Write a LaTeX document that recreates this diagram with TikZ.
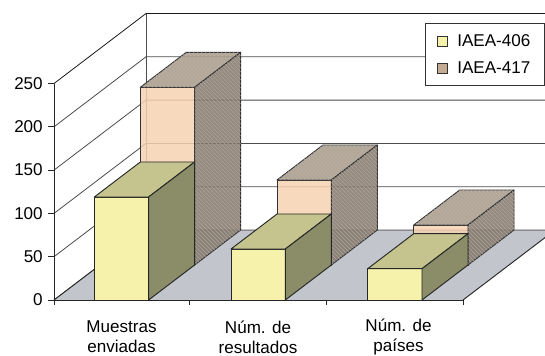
\documentclass[tikz,border=0pt]{standalone}
\usepackage{fontspec}
\setmainfont{Liberation Sans}
\usepackage{tikz}
\usetikzlibrary{patterns}

\definecolor{yfront}{HTML}{F6F1AB}
\definecolor{ytop}{HTML}{C5C48F}
\definecolor{yside}{HTML}{8B8D68}
\definecolor{pfront}{HTML}{F6D2B2}
\definecolor{ptop}{HTML}{AE9B86}
\definecolor{pside}{HTML}{867665}
\definecolor{floorgray}{HTML}{C2C5CC}

\begin{document}
\begin{tikzpicture}[x=0.75pt,y=-0.75pt]
        \tikzset{
          lbl/.style={font=\fontsize{12.8}{15}\selectfont, inner sep=0pt},
          gridline/.style={draw=black!70, line width=0.6pt},
          axisline/.style={draw=black!85, line width=0.7pt},
          yface/.style={draw=black!85, line width=0.7pt, line join=round},
          pface/.style={draw=black!80, line width=0.7pt, line join=round, fill opacity=0.85},
          hatch/.style={pattern=north west lines, pattern color=black!35},
        }
        \useasboundingbox (0,0) rectangle (545,355);
        \clip (0,0) rectangle (545,355);
        % walls
        \draw[gridline] (54,300) -- (146,230) -- (555,230);
        \draw[gridline] (54,256.7) -- (146,186.7) -- (555,186.7);
        \draw[gridline] (54,213.4) -- (146,143.4) -- (555,143.4);
        \draw[gridline] (54,170.1) -- (146,100.1) -- (555,100.1);
        \draw[gridline] (54,126.8) -- (146,56.8) -- (555,56.8);
        \draw[gridline, draw=black!90] (54,83.5) -- (146,13.5) -- (555,13.5);
        \draw[gridline] (146,13.5) -- (146,230);
        % floor
        \fill[floorgray] (54,300) -- (463,300) -- (555,230) -- (146,230) -- cycle;
        \draw[gridline, draw=black!45] (146,230) -- (555,230);
        \draw[axisline] (54,300) -- (146,230);
        \draw[axisline] (463,300) -- (555,230);
        % IAEA-417
        \filldraw[pface, fill=pfront] (140.3,265) rectangle (194.6,87.3);
        \filldraw[pface, fill=ptop] (140.3,87.3) -- (194.6,87.3) -- (240.6,52.3) -- (186.3,52.3) -- cycle;
        \fill[hatch] (140.3,87.3) -- (194.6,87.3) -- (240.6,52.3) -- (186.3,52.3) -- cycle;
        \filldraw[pface, fill=pside] (194.6,265) -- (240.6,230) -- (240.6,52.3) -- (194.6,87.3) -- cycle;
        \fill[hatch] (194.6,265) -- (240.6,230) -- (240.6,52.3) -- (194.6,87.3) -- cycle;
        %
        \filldraw[pface, fill=pfront] (277,265) rectangle (331.3,180);
        \filldraw[pface, fill=ptop] (277,180) -- (331.3,180) -- (377.3,145) -- (323,145) -- cycle;
        \fill[hatch] (277,180) -- (331.3,180) -- (377.3,145) -- (323,145) -- cycle;
        \filldraw[pface, fill=pside] (331.3,265) -- (377.3,230) -- (377.3,145) -- (331.3,180) -- cycle;
        \fill[hatch] (331.3,265) -- (377.3,230) -- (377.3,145) -- (331.3,180) -- cycle;
        %
        \filldraw[pface, fill=pfront] (413.7,265) rectangle (468,225);
        \filldraw[pface, fill=ptop] (413.7,225) -- (468,225) -- (514,190) -- (459.7,190) -- cycle;
        \fill[hatch] (413.7,225) -- (468,225) -- (514,190) -- (459.7,190) -- cycle;
        \filldraw[pface, fill=pside] (468,265) -- (514,230) -- (514,190) -- (468,225) -- cycle;
        \fill[hatch] (468,265) -- (514,230) -- (514,190) -- (468,225) -- cycle;
        % IAEA-406
        \filldraw[yface, fill=yfront] (94.3,300) rectangle (148.6,197);
        \filldraw[yface, fill=ytop] (94.3,197) -- (148.6,197) -- (194.6,162) -- (140.3,162) -- cycle;
        \filldraw[yface, fill=yside] (148.6,300) -- (194.6,265) -- (194.6,162) -- (148.6,197) -- cycle;
        %
        \filldraw[yface, fill=yfront] (231,300) rectangle (285.3,249);
        \filldraw[yface, fill=ytop] (231,249) -- (285.3,249) -- (331.3,214) -- (277,214) -- cycle;
        \filldraw[yface, fill=yside] (285.3,300) -- (331.3,265) -- (331.3,214) -- (285.3,249) -- cycle;
        %
        \filldraw[yface, fill=yfront] (367.7,300) rectangle (422,268.7);
        \filldraw[yface, fill=ytop] (367.7,268.7) -- (422,268.7) -- (468,233.7) -- (413.7,233.7) -- cycle;
        \filldraw[yface, fill=yside] (422,300) -- (468,265) -- (468,233.7) -- (422,268.7) -- cycle;
        % axes
        \draw[axisline] (54,300) -- (463,300);
        \draw[axisline] (54,305) -- (54,83.5);
        \draw[axisline] (48,300) -- (54,300);
        \draw[axisline] (48,256.7) -- (54,256.7);
        \draw[axisline] (48,213.4) -- (54,213.4);
        \draw[axisline] (48,170.1) -- (54,170.1);
        \draw[axisline] (48,126.8) -- (54,126.8);
        \draw[axisline] (48,83.5) -- (54,83.5);
        \draw[axisline] (189.5,300) -- (189.5,305);
        \draw[axisline] (326,300) -- (326,305);
        \draw[axisline] (463,300) -- (463,305);
        \node[lbl, anchor=east] (v0) at (43,300) {0};
        \node[lbl, anchor=east] (v50) at (43,256.7) {50};
        \node[lbl, anchor=east] (v100) at (43,213.4) {100};
        \node[lbl, anchor=east] (v150) at (43,170.1) {150};
        \node[lbl, anchor=east] (v200) at (43,126.8) {200};
        \node[lbl, anchor=east] (v250) at (43,83.5) {250};
        \node[lbl, align=center] (muestras) at (121.5,337) {Muestras\\enviadas};
        \node[lbl, align=center] (resultados) at (258,337) {Núm. de\\resultados};
        \node[lbl, align=center] (paises) at (398.5,337) {Núm. de\\países};
        % legend
        \filldraw[draw=black!80, fill=white, line width=0.6pt] (425,23) rectangle (544.5,85);
        \filldraw[draw=black!80, fill=yfront, line width=0.6pt] (437.5,36) rectangle (447.5,46);
        \filldraw[draw=black!80, fill=ptop!70!pfront, line width=0.6pt] (437.5,63) rectangle (447.5,73);
        \node[lbl, anchor=west] (k406) at (457,41) {IAEA-406};
        \node[lbl, anchor=west] (k417) at (457,68) {IAEA-417};
\end{tikzpicture}
\end{document}
